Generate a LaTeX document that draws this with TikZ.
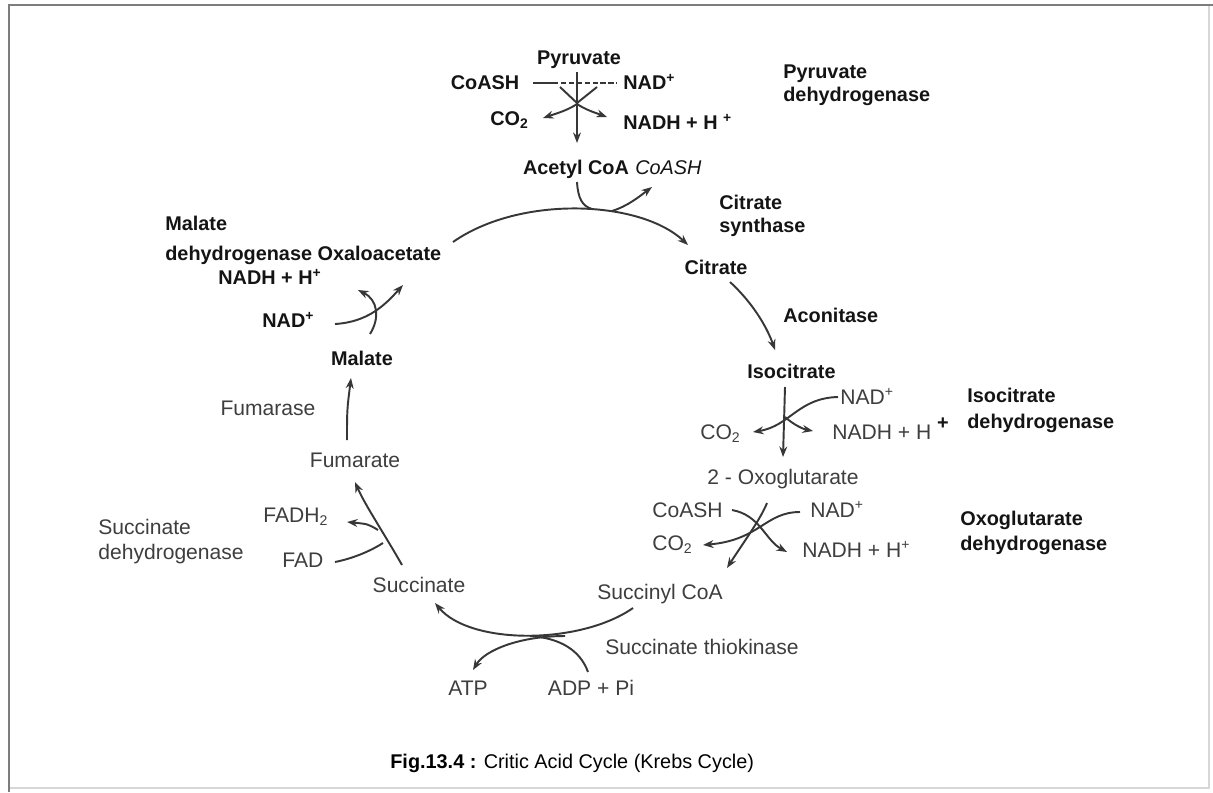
\documentclass[tikz,border=0pt]{standalone}
\usepackage{fontspec}
\setmainfont{Liberation Sans}
\usetikzlibrary{arrows.meta}
\definecolor{inkdark}{RGB}{20,20,20}
\definecolor{scangray}{RGB}{62,62,62}
\definecolor{rxngray}{RGB}{55,55,55}
\definecolor{framedark}{RGB}{125,125,125}
\definecolor{framelight}{RGB}{215,215,215}
\tikzset{
  % Etiketlar
  blab/.style  = {font=\fontsize{11.3}{13}\selectfont\bfseries, text=inkdark,
                  inner sep=0pt, text height=8pt, text depth=0pt},
  ilab/.style  = {font=\fontsize{11.3}{13}\selectfont\itshape, text=inkdark,
                  inner sep=0pt, text height=8pt, text depth=0pt},
  slab/.style  = {font=\fontsize{12}{14}\selectfont, text=scangray,
                  inner sep=0pt, text height=8.6pt, text depth=0pt},
  % Reaksiya chiziqlari
  rxn/.style      = {draw=rxngray, line width=1.1pt},
  rxnarrow/.style = {rxn, -{Stealth[length=6pt,width=4.5pt]}},
}

\begin{document}
\begin{tikzpicture}[x=0.02cm,y=-0.02cm]
  \useasboundingbox (0,0) rectangle (1213,792);
  % Ramka
  \draw[framelight, line width=0.8pt] (9,788) -- (1209,788) -- (1209,5);
  \draw[framedark, line width=1.7pt] (9,792) -- (9,5) -- (1213,5);

  % Pyruvate dehydrogenase
  \node[blab] (pyr) at (579,57) {Pyruvate};
  \node[blab] (coashA) at (485,82) {CoASH};
  \node[blab, anchor=west] (nadA) at (623,82) {NAD\textsuperscript{+}};
  \node[blab, anchor=west] (cotwoA) at (490,118) {CO\textsubscript{2}};
  \node[blab, anchor=west] (nadhA) at (623,122) {NADH + H \textsuperscript{+}};
  \node[blab, anchor=west] (pdhA) at (783,71) {Pyruvate};
  \node[blab, anchor=west] (pdhB) at (783,94) {dehydrogenase};
  \node[blab] (acoa) at (576,167) {Acetyl CoA};
  \node[ilab, anchor=west] (coashB) at (635,167) {CoASH};
  \coordinate (dashL) at (533,83);
  \coordinate (dashM) at (553,83);
  \coordinate (dashR) at (617,83);
  \draw[rxn, line width=0.8pt] (dashL) -- (dashM);
  \draw[rxn, line width=0.8pt, dashed, dash pattern=on 3pt off 1.5pt] (dashM) -- (dashR);
  \draw[rxnarrow] (577,72) -- (577,143);
  \draw[rxn] (560,87) -- (577,103);
  \draw[rxn] (597,87) -- (577,103);
  \draw[rxnarrow] (577,104) .. controls (568,110) and (558,113) .. (543,118);
  \draw[rxnarrow] (577,104) .. controls (586,110) and (596,113) .. (607,117);

  % Citrate synthase
  \coordinate (oaa) at (453,242);
  \coordinate (cit) at (688,245);
  \draw[rxnarrow] (oaa) .. controls (520,195) and (640,200) .. (cit);
  \draw[rxn] (577,182) .. controls (578,198) and (582,206) .. (592,209);
  \draw[rxnarrow] (612,211) .. controls (628,206) and (640,196) .. (652,187);
  \node[blab, anchor=west] (csA) at (719,202) {Citrate};
  \node[blab, anchor=west] (csB) at (719,225) {synthase};
  \node[blab] (citrate) at (716,267) {Citrate};

  % Aconitase
  \node[blab, anchor=west] (acon) at (783,315) {Aconitase};
  \node[blab, anchor=west] (isocit) at (747,371) {Isocitrate};
  \draw[rxnarrow] (730,282) .. controls (755,305) and (768,330) .. (775,350);

  % Isocitrate dehydrogenase
  \node[slab, anchor=west] (nadB) at (840,397) {NAD\textsuperscript{+}};
  \node[slab, anchor=west] (cotwoB) at (700,432) {CO\textsubscript{2}};
  \node[slab, anchor=west] (nadhB) at (832,432) {NADH + H};
  \node[blab] (plus) at (943,422) {+};
  \node[blab, anchor=west] (icdhA) at (967,395) {Isocitrate};
  \node[blab, anchor=west] (icdhB) at (967,421) {dehydrogenase};
  \node[slab] (oxo) at (783,477) {2 - Oxoglutarate};
  \draw[rxnarrow] (785,387) -- (783,457);
  \draw[rxnarrow] (838,397) .. controls (798,398) and (790,426) .. (753,432);
  \draw[rxnarrow] (785,417) .. controls (794,425) and (803,429) .. (813,431);

  % Oxoglutarate dehydrogenase
  \node[slab, anchor=west] (coashC) at (652,510) {CoASH};
  \node[slab, anchor=west] (nadC) at (810,510) {NAD\textsuperscript{+}};
  \node[slab, anchor=west] (cotwoC) at (652,543) {CO\textsubscript{2}};
  \node[slab, anchor=west] (nadhC) at (802,550) {NADH + H\textsuperscript{+}};
  \node[blab, anchor=west] (ogdhA) at (960,518) {Oxoglutarate};
  \node[blab, anchor=west] (ogdhB) at (960,543) {dehydrogenase};
  \node[slab] (sucoa) at (660,592) {Succinyl CoA};
  \draw[rxnarrow] (767,503) .. controls (760,520) and (745,540) .. (727,568);
  \draw[rxnarrow] (732,510) .. controls (760,515) and (765,540) .. (787,552);
  \draw[rxnarrow] (800,512) .. controls (765,512) and (760,540) .. (703,545);

  % Succinate thiokinase
  \node[slab, anchor=west] (sthk) at (605,647) {Succinate thiokinase};
  \node[slab] (atp) at (468,688) {ATP};
  \node[slab] (adp) at (591,688) {ADP + Pi};
  \node[slab] (succ) at (419,585) {Succinate};
  \draw[rxnarrow] (633,608) .. controls (580,645) and (470,645) .. (435,603);
  \draw[rxnarrow] (565,636) .. controls (520,636) and (485,650) .. (473,670);
  \draw[rxn] (588,672) .. controls (580,650) and (560,638) .. (530,636);

  % Succinate dehydrogenase
  \node[slab, anchor=west] (fadh) at (263,515) {FADH\textsubscript{2}};
  \node[slab, anchor=west] (fad) at (282,560) {FAD};
  \node[slab, anchor=west] (sdhA) at (98,527) {Succinate};
  \node[slab, anchor=west] (sdhB) at (98,552) {dehydrogenase};
  \node[slab] (fum) at (355,460) {Fumarate};
  \draw[rxnarrow] (402,565) .. controls (385,535) and (365,505) .. (355,482);
  \draw[rxn] (335,562) .. controls (355,558) and (372,550) .. (383,543);
  \draw[rxnarrow] (378,530) .. controls (368,524) .. (347,522);

  % Fumarase
  \node[slab] (fumase) at (268,408) {Fumarase};
  \draw[rxnarrow] (347,440) .. controls (347,410) .. (351,378);

  % Malate dehydrogenase
  \node[blab] (malate) at (362,358) {Malate};
  \node[blab, anchor=west] (mdhA) at (165,223) {Malate};
  \node[blab, anchor=west] (mdhB) at (165,253) {dehydrogenase Oxaloacetate};
  \node[blab, anchor=west] (nadhD) at (218,277) {NADH + H\textsuperscript{+}};
  \node[blab, anchor=west] (nadD) at (262,320) {NAD\textsuperscript{+}};
  \draw[rxnarrow] (335,324) .. controls (368,322) and (385,305) .. (403,285);
  \draw[rxnarrow] (370,334) .. controls (380,318) and (378,300) .. (358,290);

  % Sarlavha
  \node[font=\fontsize{11.3}{13}\selectfont, anchor=west, inner sep=0pt] (cap) at (390,763)
    {\textbf{Fig.13.4 :} Critic Acid Cycle (Krebs Cycle)};
\end{tikzpicture}
\end{document}
